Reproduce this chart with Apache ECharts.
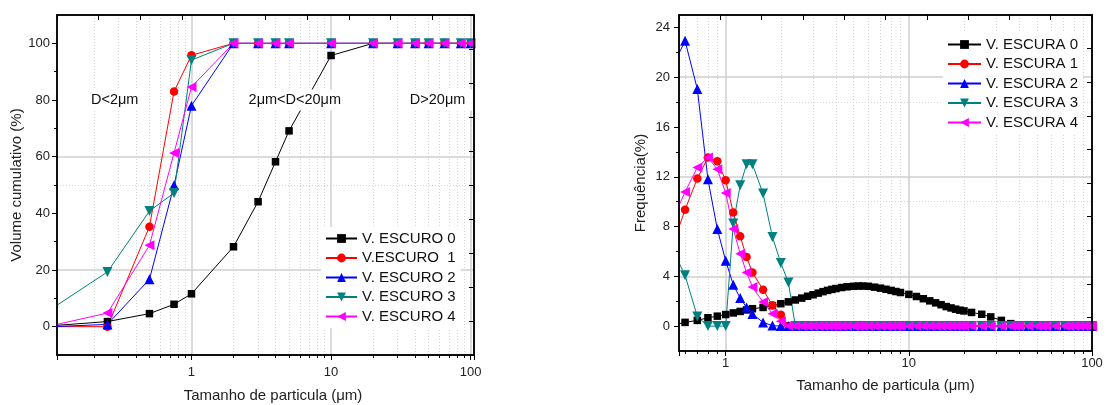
<!DOCTYPE html>
<html>
<head>
<meta charset="utf-8">
<script src="https://cdn.jsdelivr.net/npm/echarts@6/dist/echarts.min.js"></script>
<style>
html,body{margin:0;padding:0;background:#fff}
#wrap{position:relative;width:1105px;height:405px}
#c,#f0,#f1{position:absolute;left:0;top:0;width:1105px;height:405px}
#f0,#f1{pointer-events:none}
#err{position:absolute;left:2px;top:392px;font:9px monospace;color:#a00;white-space:nowrap}
</style>
</head>
<body>
<div id="wrap"><div id="c"></div><div id="f0"></div><div id="f1"></div><div id="err"></div></div>
<script>
// ---------- Left panel: cumulative volume ----------
const cumX = [0.1, 0.25, 0.5, 0.75, 1, 2, 3, 4, 5, 10, 20, 30, 40, 50, 65, 85, 100];
const escuro0 = [0.33, 1.8, 4.6, 7.9, 11.6, 28.2, 44.1, 58.2, 69.1, 95.7, 100, 100, 100, 100, 100, 100, 100];
const escuro1 = [0, 0, 35.3, 83.0, 95.8, 100, 100, 100, 100, 100, 100, 100, 100, 100, 100, 100, 100];
const escuro2 = [0, 0.8, 16.7, 49.9, 78.0, 100, 100, 100, 100, 100, 100, 100, 100, 100, 100, 100, 100];
const escuro3 = [6.4, 19.3, 40.8, 47.2, 94.1, 100, 100, 100, 100, 100, 100, 100, 100, 100, 100, 100, 100];
const escuro4 = [0.4, 4.8, 28.7, 61.3, 84.6, 100, 100, 100, 100, 100, 100, 100, 100, 100, 100, 100, 100];
const leftNames = ['V. ESCURO 0', 'V.ESCURO  1', 'V. ESCURO 2', 'V. ESCURO 3', 'V. ESCURO 4'];
const leftYTicks = [0, 20, 40, 60, 80, 100];
const leftYMinorTicks = [10, 30, 50, 70, 90];
const annoText = ['D<2\u03bcm', '2\u03bcm<D<20\u03bcm', 'D>20\u03bcm'];
const annoX = [0.282, 5.5, 58];
const annoY = [80, 80, 80];

// ---------- Right panel: frequency ----------
const freqX = [0.5, 0.6, 0.7, 0.8, 0.9, 1.0, 1.1, 1.2, 1.3, 1.4,
  1.6, 1.8, 2.0, 2.2, 2.4, 2.6, 2.8, 3.0, 3.2, 3.4,
  3.6, 3.8, 4.0, 4.3, 4.6, 5.0, 5.3, 5.6, 6.0, 6.5,
  7.0, 7.5, 8.0, 8.5, 9.0, 10, 11, 12, 13, 14,
  15, 16, 17, 18, 19, 20, 22, 25, 28, 32,
  36, 38, 40, 45, 50, 53, 56, 63, 71, 75,
  80, 85, 90, 95, 100];
const escura0 = [0.05, 0.3, 0.46, 0.67, 0.8, 0.93, 1.06, 1.18, 1.3, 1.4,
  1.5, 1.65, 1.8, 1.95, 2.1, 2.25, 2.4, 2.52, 2.65, 2.77,
  2.87, 2.95, 3.02, 3.1, 3.16, 3.2, 3.22, 3.22, 3.2, 3.13,
  3.05, 2.96, 2.87, 2.78, 2.7, 2.55, 2.38, 2.2, 2.03, 1.87,
  1.72, 1.57, 1.46, 1.36, 1.28, 1.22, 1.1, 0.95, 0.74, 0.46,
  0.2, 0.06, 0, 0, 0, 0, 0, 0, 0, 0,
  0, 0, 0, 0, 0];
const escura1 = [6.0, 9.36, 11.86, 13.55, 13.25, 11.72, 9.12, 7.22, 5.55, 4.3,
  2.93, 1.67, 0.92, 0, 0, 0, 0, 0, 0, 0,
  0, 0, 0, 0, 0, 0, 0, 0, 0, 0,
  0, 0, 0, 0, 0, 0, 0, 0, 0, 0,
  0, 0, 0, 0, 0, 0, 0, 0, 0, 0,
  0, 0, 0, 0, 0, 0, 0, 0, 0, 0,
  0, 0, 0, 0, 0];
const escura2 = [20.5, 22.93, 19.05, 11.8, 7.8, 5.25, 3.33, 2.25, 1.5, 0.97,
  0.3, 0.04, 0, 0, 0, 0, 0, 0, 0, 0,
  0, 0, 0, 0, 0, 0, 0, 0, 0, 0,
  0, 0, 0, 0, 0, 0, 0, 0, 0, 0,
  0, 0, 0, 0, 0, 0, 0, 0, 0, 0,
  0, 0, 0, 0, 0, 0, 0, 0, 0, 0,
  0, 0, 0, 0, 0];
const escura3 = [6.5, 4.08, 0.78, 0, 0, 0, 8.24, 11.32, 13.0, 13.0,
  10.65, 7.16, 5.07, 3.5, 0, 0, 0, 0, 0, 0,
  0, 0, 0, 0, 0, 0, 0, 0, 0, 0,
  0, 0, 0, 0, 0, 0, 0, 0, 0, 0,
  0, 0, 0, 0, 0, 0, 0, 0, 0, 0,
  0, 0, 0, 0, 0, 0, 0, 0, 0, 0,
  0, 0, 0, 0, 0];
const escura4 = [8.2, 10.78, 12.75, 13.55, 12.6, 10.7, 7.8, 5.82, 4.3, 3.14,
  1.93, 1.0, 0.4, 0, 0, 0, 0, 0, 0, 0,
  0, 0, 0, 0, 0, 0, 0, 0, 0, 0,
  0, 0, 0, 0, 0, 0, 0, 0, 0, 0,
  0, 0, 0, 0, 0, 0, 0, 0, 0, 0,
  0, 0, 0, 0, 0, 0, 0, 0, 0, 0,
  0, 0, 0, 0, 0];
const rightNames = ['V. ESCURA 0', 'V. ESCURA 1', 'V. ESCURA 2', 'V. ESCURA 3', 'V. ESCURA 4'];
const rightYTicks = [0, 4, 8, 12, 16, 20, 24];
const rightYMinorTicks = [2, 6, 10, 14, 18, 22];

// ---------- styling ----------
const FONT = '"Liberation Sans", Arial, sans-serif';
const colors = ['#000000', '#ff0000', '#0000ff', '#008080', '#ff00ff'];
const symbols = ['rect', 'circle', 'triangle', 'triangle', 'triangle'];
const rotates = [0, 0, 0, 180, 90];
const sizes = [7.5, 8.5, 10, 10, 10];
const GRID_MAJOR = '#cfcfcf';
const GRID_MINOR = '#d6d6d6';
const gridRects = [
  { left: 57, top: 15, width: 417, height: 340 },
  { left: 679, top: 15, width: 413, height: 336 }
];
const report = (tag, e) => { document.getElementById('err').textContent += tag + ': ' + (e && e.message) + '  '; };

// ---------- frame (top / right axes with inward ticks), drawn first on its own layers ----------
function frameOption(r) {
  return {
    animation: false,
    grid: [Object.assign({ show: true, borderColor: '#000', borderWidth: 1.5, outerBoundsMode: 'none' }, r)],
    xAxis: [
      { type: 'value', gridIndex: 0, position: 'bottom', min: 0, max: 10,
        axisLine: { show: false }, axisTick: { show: false }, axisLabel: { show: false }, splitLine: { show: false } },
      { type: 'value', gridIndex: 0, position: 'top', min: 0, max: 10, interval: 1,
        axisLine: { show: true, onZero: false, lineStyle: { color: '#000', width: 1.5 } },
        axisTick: { show: true, inside: true, length: 5, lineStyle: { color: '#000', width: 1 } },
        axisLabel: { show: false }, splitLine: { show: false } }
    ],
    yAxis: [
      { type: 'value', gridIndex: 0, position: 'left', min: 0, max: 10,
        axisLine: { show: false }, axisTick: { show: false }, axisLabel: { show: false }, splitLine: { show: false } },
      { type: 'value', gridIndex: 0, position: 'right', min: 0, max: 10, interval: 1,
        axisLine: { show: true, onZero: false, lineStyle: { color: '#000', width: 1.5 } },
        axisTick: { show: true, inside: true, length: 5, lineStyle: { color: '#000', width: 1 } },
        axisLabel: { show: false }, splitLine: { show: false } }
    ]
  };
}
['f0', 'f1'].forEach((id, i) => {
  try {
    const fc = echarts.init(document.getElementById(id), null, { renderer: 'canvas' });
    fc.setOption(frameOption(gridRects[i]));
  } catch (e) { report(id, e); }
});

// ---------- main chart ----------
function pairs(xs, ys) { return xs.map((x, i) => [x, ys[i]]); }

function mkSeries(name, xs, ys, k, xi, yi) {
  return {
    name: name, type: 'line', xAxisIndex: xi, yAxisIndex: yi,
    data: pairs(xs, ys),
    symbol: symbols[k], symbolSize: sizes[k], symbolRotate: rotates[k],
    showSymbol: true, clip: true,
    lineStyle: { width: 1, color: colors[k] },
    itemStyle: { color: colors[k] },
    emphasis: { disabled: true },
    animation: false
  };
}

const logX = (gi, min, max, name, nameGap, labelMargin, showMaxLabel, namePad) => ({
  type: 'log', gridIndex: gi, position: 'bottom', min: min, max: max,
  name: name, nameLocation: 'middle', nameGap: nameGap,
  nameTextStyle: { fontFamily: FONT, fontSize: 15, color: '#222', padding: namePad },
  axisLine: { show: true, onZero: false, lineStyle: { color: '#000', width: 1.5 } },
  axisTick: { show: true, inside: false, length: 5, lineStyle: { color: '#000', width: 1 } },
  minorTick: { show: true, splitNumber: 9, length: 3, lineStyle: { color: '#000', width: 1 } },
  axisLabel: { show: true, margin: labelMargin, showMinLabel: false, showMaxLabel: showMaxLabel,
    fontFamily: FONT, fontSize: 13, color: '#222' },
  splitLine: { show: true, showMinLine: false, showMaxLine: false, lineStyle: { color: GRID_MAJOR, width: 1.5 } },
  minorSplitLine: { show: true, lineStyle: { color: GRID_MINOR, width: 1, type: [1, 2] } }
});

const mainY = (gi, min, max, interval, ticks, name, nameGap, labelMargin) => ({
  type: 'value', gridIndex: gi, position: 'left', min: min, max: max, interval: interval,
  name: name, nameLocation: 'middle', nameGap: nameGap,
  nameTextStyle: { fontFamily: FONT, fontSize: 15, color: '#222' },
  axisLine: { show: true, onZero: false, lineStyle: { color: '#000', width: 1.5 } },
  axisTick: { show: true, inside: false, length: 5, customValues: ticks, lineStyle: { color: '#000', width: 1 } },
  axisLabel: { show: true, margin: labelMargin, customValues: ticks, fontFamily: FONT, fontSize: 13, color: '#222',
    formatter: (v) => (ticks.indexOf(v) >= 0 ? String(v) : '') },
  splitLine: { show: true, showMinLine: false, showMaxLine: false,
    lineStyle: { color: [GRID_MAJOR, 'rgba(0,0,0,0)'], width: 1.5 } }
});
const minorY = (gi, min, max, interval, ticks) => ({
  type: 'value', gridIndex: gi, position: 'left', min: min, max: max, interval: interval,
  axisLine: { show: false },
  axisTick: { show: true, inside: false, length: 3, customValues: ticks, lineStyle: { color: '#000', width: 1 } },
  axisLabel: { show: false },
  splitLine: { show: true, showMinLine: false, showMaxLine: false,
    lineStyle: { color: ['rgba(0,0,0,0)', GRID_MINOR], width: 1, type: [1, 2] } }
});

const legendCommon = {
  orient: 'vertical', itemHeight: 11, itemGap: 4.5, padding: [4, 5, 4, 4],
  backgroundColor: '#ffffff', selectedMode: false,
  textStyle: { fontFamily: FONT, fontSize: 15, color: '#111' }
};

const series = [];
const leftData = [escuro0, escuro1, escuro2, escuro3, escuro4];
leftData.forEach((ys, k) => series.push(mkSeries(leftNames[k], cumX, ys, k, 0, 0)));
const rightData = [escura0, escura1, escura2, escura3, escura4];
rightData.forEach((ys, k) => series.push(mkSeries(rightNames[k], freqX, ys, k, 1, 2)));

// text annotations placed in data coordinates of the left panel
series[4].markPoint = {
  silent: true, animation: false, z: 10,
  symbol: 'rect', symbolSize: 1, itemStyle: { color: 'rgba(0,0,0,0)' },
  label: { show: true, position: 'inside', formatter: '{b}', fontFamily: FONT, fontSize: 14.5,
    color: '#111', backgroundColor: '#ffffff', padding: [3, 8, 3, 8] },
  data: annoText.map((t, i) => ({ name: t, coord: [annoX[i], annoY[i]] }))
};

const option = {
  animation: false,
  grid: gridRects.map((r) => Object.assign({ outerBoundsMode: 'none', containLabel: false }, r)),
  xAxis: [
    logX(0, 0.1088, 105.7, 'Tamanho de particula (\u03bcm)', 33, 11, false, [0, 0, 0, 15]),
    logX(1, 0.556, 100, 'Tamanho de particula (\u03bcm)', 27, 6, true, [0, 0, 0, 0])
  ],
  yAxis: [
    mainY(0, -10, 110, 10, leftYTicks, 'Volume cumulativo (%)', 32, 7),
    minorY(0, -10, 110, 10, leftYMinorTicks),
    mainY(1, -2, 25, 2, rightYTicks, 'Frequ\u00eancia(%)', 31, 9),
    minorY(1, -2, 25, 2, rightYMinorTicks)
  ],
  legend: [
    Object.assign({}, legendCommon, { data: leftNames, left: 321, top: 227, itemWidth: 31 }),
    Object.assign({}, legendCommon, { data: rightNames, left: 943, top: 33, itemWidth: 33 })
  ],
  series: series
};

try {
  const chart = echarts.init(document.getElementById('c'), null, { renderer: 'canvas' });
  chart.setOption(option);
} catch (e) { report('main', e); }
</script>
</body>
</html>
